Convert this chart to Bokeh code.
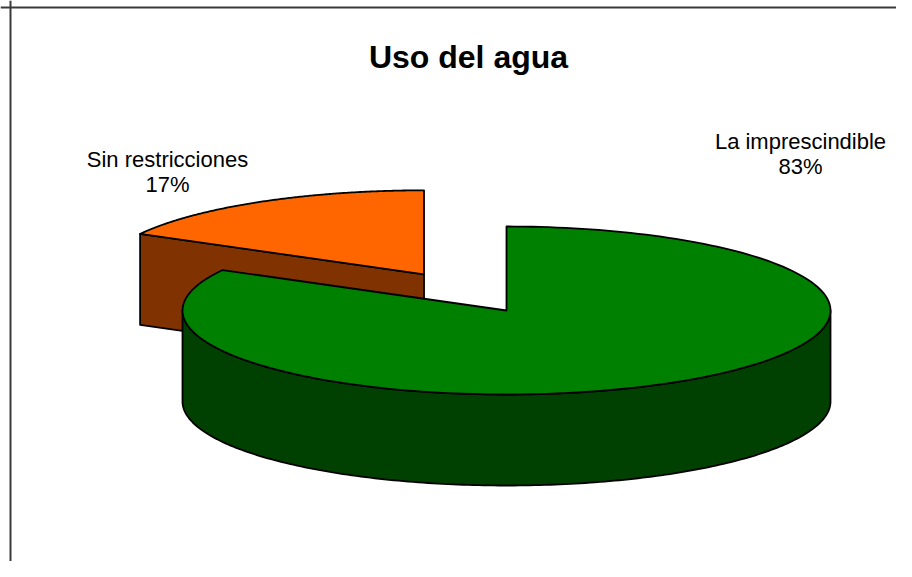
import numpy as np
from bokeh.plotting import figure
from bokeh.models import Range1d, Span, Label, ColumnDataSource
from bokeh.core.properties import value
from bokeh.embed import file_html
from bokeh.resources import INLINE

# ---- data ----
title = "Uso del agua"
categories = ["La imprescindible", "Sin restricciones"]
values = [83, 17]

# ---- style / layout ----
top_colors = ["#008000", "#FF6600"]
side_colors = ["#004000", "#803300"]
explode = [0.0, 0.5]
label_pos = [(800, 141), (167, 159)]   # baseline of first label line
LINE_GAP = 25
FONT = "Liberation Sans"

W, H = 896, 561
CX, CY = 506, 310          # centre of the un-exploded top face
RX, RY = 324, 84           # ellipse semi-axes
DEPTH = 91                 # pie thickness
START = 90.0               # first slice starts at 12 o'clock, clockwise

p = figure(width=W, height=H, x_range=Range1d(0, W), y_range=Range1d(H, 0),
           output_backend="svg", toolbar_location=None,
           x_axis_location=None, y_axis_location=None, min_border=0)
p.grid.visible = False
p.outline_line_color = None
p.background_fill_color = "white"
p.border_fill_color = "white"

# chart frame (only top/left edges fall inside the window)
p.add_layout(Span(location=7, dimension="width", line_color="#3a3a3a", line_width=2))
p.add_layout(Span(location=10, dimension="height", line_color="#3a3a3a", line_width=2))


def arc(cx, cy, t0, t1, dz=0.0, n=200):
    th = np.radians(np.linspace(t0, t1, n))
    return list(cx + RX * np.cos(th)), list(cy - RY * np.sin(th) + dz)


total = float(sum(values))
slices = []
a0 = START
for i, v in enumerate(values):
    a1 = a0 - v / total * 360.0
    mid = np.radians((a0 + a1) / 2.0)
    e = explode[i]
    cx = CX + e * RX * np.cos(mid)
    cy = CY - e * RY * np.sin(mid)
    slices.append(dict(i=i, a0=a0, a1=a1, cx=cx, cy=cy))
    a0 = a1

# painter's order: farther (smaller screen y) first
slices.sort(key=lambda s: s["cy"])

for s in slices:
    i, a0, a1, cx, cy = s["i"], s["a0"], s["a1"], s["cx"], s["cy"]
    xs_list, ys_list, fills = [], [], []

    # radial faces that turn towards the viewer
    for ang, ny in ((a0, np.cos(np.radians(a0))), (a1, -np.cos(np.radians(a1)))):
        if ny < -1e-6:
            t = np.radians(ang)
            px, py = cx + RX * np.cos(t), cy - RY * np.sin(t)
            xs_list.append([cx, px, px, cx])
            ys_list.append([cy, py, py + DEPTH, cy + DEPTH])
            fills.append(side_colors[i])

    # curved outer side: intersection with front half (sin < 0)
    for k in range(-3, 3):
        lo, hi = k * 360 - 180, k * 360
        l, h = max(lo, a1), min(hi, a0)
        if h - l > 1e-6:
            tx, ty = arc(cx, cy, l, h)
            bx, by = arc(cx, cy, h, l, DEPTH)
            xs_list.append(tx + bx)
            ys_list.append(ty + by)
            fills.append(side_colors[i])

    # top face
    tx, ty = arc(cx, cy, a1, a0)
    xs_list.append([cx] + tx)
    ys_list.append([cy] + ty)
    fills.append(top_colors[i])

    p.patches(xs=xs_list, ys=ys_list, fill_color=fills, line_color="black",
              line_width=1.8, line_join="round")

# data labels
lx = [pos[0] for pos in label_pos]
ly = [pos[1] for pos in label_pos]
src = ColumnDataSource(dict(
    x=lx + lx,
    y=ly + [y + LINE_GAP for y in ly],
    t=categories + [f"{v}%" for v in values],
))
p.text(x="x", y="y", text="t", source=src, text_align="center",
       text_baseline="alphabetic", text_font=value(FONT),
       text_font_size="22px", text_color="black")

p.add_layout(Label(x=468, y=56, text=title, text_align="center",
                   text_baseline="alphabetic", text_font=FONT,
                   text_font_size="32px", text_font_style="bold",
                   text_color="black"))

open("out.html", "w").write(file_html(p, INLINE))
